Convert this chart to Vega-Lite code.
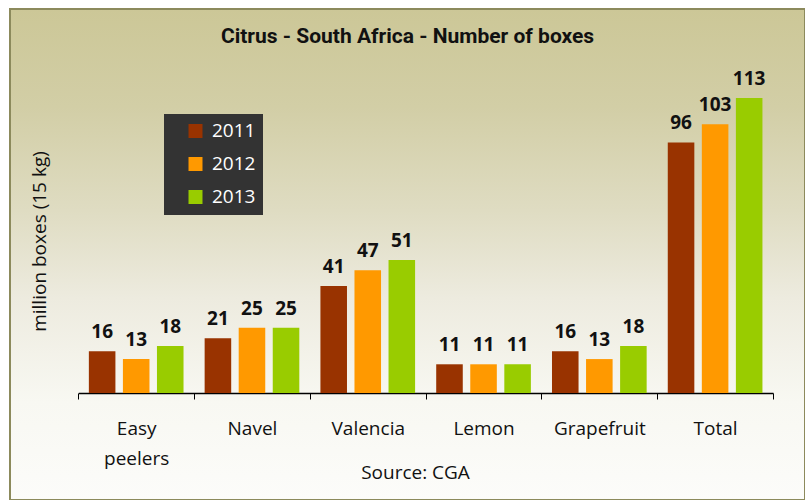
{
  "$schema": "https://vega.github.io/schema/vega-lite/v6.json",
  "width": 795,
  "height": 491,
  "autosize": {"type": "none"},
  "padding": {"left": 10, "top": 9, "right": 0, "bottom": 0},
  "background": "white",
  "title": {
    "text": "Citrus - South Africa - Number of boxes",
    "font": "Roboto",
    "fontSize": 21,
    "fontWeight": "bold",
    "color": "#111111",
    "anchor": "middle",
    "frame": "group",
    "offset": 0,
    "baseline": "alphabetic",
    "dy": 55
  },
  "data": {
    "values": [
      {"category": "Easy peelers", "year": "2011", "value": 16},
      {"category": "Easy peelers", "year": "2012", "value": 13},
      {"category": "Easy peelers", "year": "2013", "value": 18},
      {"category": "Navel", "year": "2011", "value": 21},
      {"category": "Navel", "year": "2012", "value": 25},
      {"category": "Navel", "year": "2013", "value": 25},
      {"category": "Valencia", "year": "2011", "value": 41},
      {"category": "Valencia", "year": "2012", "value": 47},
      {"category": "Valencia", "year": "2013", "value": 51},
      {"category": "Lemon", "year": "2011", "value": 11},
      {"category": "Lemon", "year": "2012", "value": 11},
      {"category": "Lemon", "year": "2013", "value": 11},
      {"category": "Grapefruit", "year": "2011", "value": 16},
      {"category": "Grapefruit", "year": "2012", "value": 13},
      {"category": "Grapefruit", "year": "2013", "value": 18},
      {"category": "Total", "year": "2011", "value": 96},
      {"category": "Total", "year": "2012", "value": 103},
      {"category": "Total", "year": "2013", "value": 113}
    ]
  },
  "encoding": {
    "x": {
      "field": "category",
      "type": "nominal",
      "sort": ["Easy peelers", "Navel", "Valencia", "Lemon", "Grapefruit", "Total"],
      "scale": {"range": [68.3, 763], "paddingInner": 0, "paddingOuter": 0},
      "axis": {
        "title": "Source: CGA",
        "orient": "bottom",
        "offset": -107,
        "grid": false,
        "domainColor": "#000000",
        "domainWidth": 1.5,
        "tickColor": "#000000",
        "tickSize": 6,
        "tickWidth": 1,
        "tickBand": "extent",
        "labelAngle": 0,
        "labelFont": "Open Sans",
        "labelFontSize": 19,
        "labelColor": "#111111",
        "labelPadding": 20,
        "labelLineHeight": 30,
        "labelExpr": "split(datum.label, ' ')",
        "titleFont": "Open Sans",
        "titleFontSize": 19,
        "titleFontWeight": "normal",
        "titleColor": "#111111",
        "titleX": 405,
        "titleY": 85,
        "titleBaseline": "alphabetic",
        "titleAlign": "center"
      }
    },
    "xOffset": {
      "field": "year",
      "type": "nominal",
      "scale": {"paddingInner": 0.22, "paddingOuter": 0.31}
    },
    "y": {
      "field": "value",
      "type": "quantitative",
      "scale": {"domain": [0, 120], "range": [384, 70.8]},
      "axis": {
        "title": "million boxes (15 kg)",
        "domain": false,
        "ticks": false,
        "labels": false,
        "grid": false,
        "titleX": 29,
        "titleY": 232,
        "titleBaseline": "middle",
        "titleAlign": "center",
        "titleAngle": -90,
        "titleFont": "Open Sans",
        "titleFontSize": 19,
        "titleFontWeight": "normal",
        "titleColor": "#111111"
      }
    }
  },
  "layer": [
    {
      "mark": {"type": "bar"},
      "encoding": {
        "color": {
          "field": "year",
          "type": "nominal",
          "scale": {"domain": ["2011", "2012", "2013"], "range": ["#993300", "#FF9900", "#99CC00"]},
          "legend": {
            "title": null,
            "orient": "none",
            "legendX": 154,
            "legendY": 105,
            "fillColor": "#333333",
            "padding": 7.5,
            "rowPadding": 13,
            "symbolType": "square",
            "symbolSize": 196,
            "symbolStrokeWidth": 0,
            "symbolOffset": 14.5,
            "labelOffset": 7,
            "labelFont": "Open Sans",
            "labelFontSize": 19,
            "labelColor": "#FFFFFF",
            "labelExpr": "datum.label + '   '"
          }
        }
      }
    },
    {
      "mark": {
        "type": "text",
        "baseline": "alphabetic",
        "dy": -13,
        "font": "Open Sans",
        "fontSize": 19,
        "fontWeight": "bold",
        "color": "#111111"
      },
      "encoding": {"text": {"field": "value", "type": "quantitative"}}
    }
  ],
  "config": {
    "view": {
      "fill": {
        "gradient": "linear",
        "x1": 0, "y1": 0, "x2": 0, "y2": 1,
        "stops": [
          {"offset": 0, "color": "#CCC797"},
          {"offset": 0.2, "color": "#D2CEA6"},
          {"offset": 0.41, "color": "#DFDCC2"},
          {"offset": 0.59, "color": "#EDEBDF"},
          {"offset": 0.8, "color": "#F8F8F2"},
          {"offset": 1, "color": "#FCFCFA"}
        ]
      },
      "stroke": "#8C8A5C",
      "strokeWidth": 2
    }
  }
}
